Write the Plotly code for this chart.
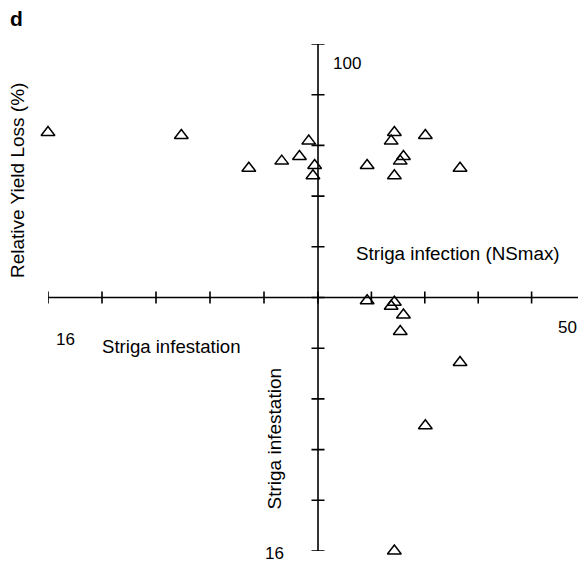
import plotly.graph_objects as go

# Per-field data (8 fields)
infestation = [16.0, 8.1, 4.1, 2.15, 1.1, 0.55, 0.2, 0.3]      # Striga infestation
nsmax = [14.3, 20.1, 26.6, 15.4, 16.0, 13.7, 9.2, 14.3]          # Striga infection (NSmax)
yield_loss = [65.1, 63.9, 51.0, 53.8, 55.6, 61.7, 52.1, 48.0]    # Relative yield loss (%)

ns_ticks = [0, 10, 20, 30, 40, 50]
yl_ticks = [0, 20, 40, 60, 80, 100]
inf_ticks = [0, 3.2, 6.4, 9.6, 12.8, 16]

# The page body has an 8px margin; size the figure so it fits the 586x565 window.
O = 8
W, H = 586 - O, 565 - O
L, R, T, B = 48 - O, 1, 44 - O, 14
PW, PH = W - L - R, H - T - B
XC = (318 - 48) / PW            # paper x of the vertical axis
YC = (551 - 297.5) / PH         # paper y of the horizontal axis


def px(x):   # page pixel -> paper
    return (x - O - L) / PW


def py(y):
    return (H - B - (y - O)) / PH


FONT = "Liberation Sans, Arial, Helvetica, sans-serif"
marker = dict(symbol="triangle-up-open", size=12, color="black",
              line=dict(width=1.5, color="black"))

fig = go.Figure()
fig.add_trace(go.Scatter(x=nsmax, y=yield_loss, mode="markers", marker=marker,
                         xaxis="x", yaxis="y", cliponaxis=False, showlegend=False))
fig.add_trace(go.Scatter(x=infestation, y=yield_loss, mode="markers", marker=marker,
                         xaxis="x2", yaxis="y", cliponaxis=False, showlegend=False))
fig.add_trace(go.Scatter(x=nsmax, y=infestation, mode="markers", marker=marker,
                         xaxis="x", yaxis="y2", cliponaxis=False, showlegend=False))

hidden = dict(showgrid=False, zeroline=False, showline=False,
              showticklabels=False, ticks="", fixedrange=True)

fig.update_layout(
    width=W, height=H,
    margin=dict(l=L, r=R, t=T, b=B, pad=0),
    paper_bgcolor="white", plot_bgcolor="rgba(0,0,0,0)",
    font=dict(family=FONT, size=18, color="black"),
    xaxis=dict(domain=[XC, 1], range=[0, 50], anchor="y", **hidden),
    xaxis2=dict(domain=[0, XC], range=[16, 0], anchor="y", **hidden),
    yaxis=dict(domain=[YC, 1], range=[0, 100], anchor="x", **hidden),
    yaxis2=dict(domain=[0, YC], range=[16, 0], anchor="x", **hidden),
)

line = dict(color="black", width=1.6)
shapes = [
    dict(type="line", xref="paper", yref="paper", x0=0, x1=1, y0=YC, y1=YC, line=line),
    dict(type="line", xref="paper", yref="paper", x0=XC, x1=XC, y0=0, y1=1, line=line),
]
for t in ns_ticks:
    shapes.append(dict(type="line", xref="x", x0=t, x1=t, yref="paper", ysizemode="pixel",
                       yanchor=YC, y0=-6, y1=6, line=line))
for t in inf_ticks:
    shapes.append(dict(type="line", xref="x2", x0=t, x1=t, yref="paper", ysizemode="pixel",
                       yanchor=YC, y0=-6, y1=6, line=line))
for t in yl_ticks:
    shapes.append(dict(type="line", yref="y", y0=t, y1=t, xref="paper", xsizemode="pixel",
                       xanchor=XC, x0=-6.5, x1=6.5, line=line))
for t in inf_ticks:
    shapes.append(dict(type="line", yref="y2", y0=t, y1=t, xref="paper", xsizemode="pixel",
                       xanchor=XC, x0=-6.5, x1=6.5, line=line))
fig.update_layout(shapes=shapes)


def ann(text, x, y, size=18, angle=0, bold=False):
    return dict(text=f"<b>{text}</b>" if bold else text, x=px(x), y=py(y),
                xref="paper", yref="paper", showarrow=False, textangle=angle,
                xanchor="center", yanchor="middle",
                font=dict(family=FONT, size=size, color="black"))


fig.update_layout(annotations=[
    ann("d", 16, 19, size=21, bold=True),
    ann("100", 347, 64, size=17),
    ann("Relative Yield Loss (%)", 17, 181, size=19, angle=-90),
    ann("Striga infection (NSmax)", 458, 253, size=18.8),
    ann("16", 65, 339, size=17),
    ann("Striga infestation", 171.5, 347, size=18.6),
    ann("50", 567, 327, size=17),
    ann("Striga infestation", 273.5, 439, size=19, angle=-90),
    ann("16", 274, 553, size=17),
])

fig.write_html("out.html")
